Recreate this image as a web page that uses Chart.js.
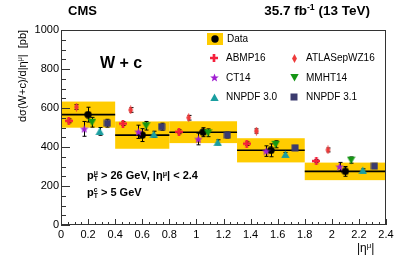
<!DOCTYPE html>
<html>
<head>
<meta charset="utf-8">
<script src="https://cdn.jsdelivr.net/npm/chart.js"></script>
<style>
body { margin: 0; background: #fff; }
#wrap { position: relative; width: 407px; height: 258px; font-family: "Liberation Sans", Arial, Helvetica, sans-serif; color: #000; }
#c { position: absolute; left: 0; top: 0; }
.t { position: absolute; white-space: nowrap; line-height: 1; }
.b { font-weight: bold; }
sup { font-size: 0.65em; vertical-align: 0.55em; line-height: 0; }
.ss { display: inline-block; vertical-align: -0.3em; font-size: 0.62em; line-height: 0.95; text-align: left; }
.ss span { display: block; }
.leg { position: absolute; font-size: 10px; line-height: 1; white-space: nowrap; }
.mk { position: absolute; }
</style>
</head>
<body>
<div id="wrap">
  <canvas id="c" width="407" height="258"></canvas>
  <div class="t b" style="left:68px;top:4px;font-size:13px">CMS</div>
  <div class="t b" style="right:37px;top:4px;font-size:13.5px">35.7 fb<sup>-1</sup> (13 TeV)</div>
  <div class="t b" style="left:100px;top:55px;font-size:16px">W + c</div>
  <div class="t b" style="left:87px;top:170px;font-size:11px">p<span class="ss"><span>μ</span><span>T</span></span> &gt; 26 GeV, |η<sup>μ</sup>| &lt; 2.4</div>
  <div class="t b" style="left:87px;top:187px;font-size:11px">p<span class="ss"><span>c</span><span>T</span></span> &gt; 5 GeV</div>
  <div class="t" style="left:17px;top:122px;font-size:11px;transform-origin:0 0;transform:rotate(-90deg)">dσ(W+c)/d|η<sup>μ</sup>|&nbsp;&nbsp;[pb]</div>
  <div class="t" style="left:357px;top:242px;font-size:12px">|η<sup>μ</sup>|</div>
  <div id="legend"></div>
</div>
<script>
// bins in |eta| and measured cross sections [pb]
const binEdges = [0, 0.4, 0.8, 1.3, 1.8, 2.4];
const dataVals = [566, 461, 476, 383, 275];
const dataStat = [38, 33, 23, 33, 25];
const dataTot  = [67, 70, 56, 62, 45];

// theory predictions per bin
const abmp16   = [534, 520, 478, 417, 328];
const abmp16E  = [10, 10, 10, 9, 8];
const atlas16  = [605, 590, 550, 482, 385];
const atlas16E = [12, 12, 12, 11, 10];
const ct14     = [493, 478, 441, 379, 299];
const ct14E    = [38, 34, 30, 27, 22];
const mmht14   = [527, 509, 473, 414, 333];
const mmht14E  = [25, 22, 20, 18, 16];
const nnpdf30  = [480, 465, 424, 362, 280];
const nnpdf30E = [20, 16, 13, 10, 8];
const nnpdf31  = [522, 504, 461, 396, 302];
const nnpdf31E = [20, 18, 15, 12, 10];

const xTicks = { min: 0, max: 2.4, step: 0.2, minor: 0.05 };
const yTicks = { min: 0, max: 1000, step: 200, minor: 50 };

function marker(shape, color, s) {
  const c = document.createElement('canvas');
  c.width = c.height = s;
  const g = c.getContext('2d');
  const m = s / 2;
  g.fillStyle = color;
  g.beginPath();
  if (shape === 'circle') {
    g.arc(m, m, s / 2 - 0.3, 0, Math.PI * 2);
  } else if (shape === 'square') {
    g.rect(0.5, 0.5, s - 1, s - 1);
  } else if (shape === 'up') {
    g.moveTo(m, 0.5); g.lineTo(s - 0.3, s - 1); g.lineTo(0.3, s - 1);
  } else if (shape === 'down') {
    g.moveTo(0.3, 1); g.lineTo(s - 0.3, 1); g.lineTo(m, s - 0.5);
  } else if (shape === 'cross') {
    const a = s / 3;
    g.rect(m - a / 2, 0, a, s);
    g.rect(0, m - a / 2, s, a);
  } else if (shape === 'diamond') {
    const w = s * 0.27;
    g.moveTo(m, 0); g.lineTo(m + w, m); g.lineTo(m, s); g.lineTo(m - w, m);
  } else if (shape === 'star') {
    for (let i = 0; i < 10; i++) {
      const r = i % 2 ? s * 0.21 : s / 2;
      const a = -Math.PI / 2 + i * Math.PI / 5;
      g.lineTo(m + r * Math.cos(a), m + r * Math.sin(a) + s * 0.05);
    }
  }
  g.closePath();
  g.fill();
  return c;
}

const series = [
  { label: 'ABMP16',      vals: abmp16,  errs: abmp16E,  mk: marker('cross', '#f5203c', 8) },
  { label: 'ATLASepWZ16', vals: atlas16, errs: atlas16E, mk: marker('diamond', '#ee3a3a', 9) },
  { label: 'CT14',        vals: ct14,    errs: ct14E,    mk: marker('star', '#a01ed2', 9) },
  { label: 'MMHT14',      vals: mmht14,  errs: mmht14E,  mk: marker('down', '#159615', 9) },
  { label: 'NNPDF 3.0',   vals: nnpdf30, errs: nnpdf30E, mk: marker('up', '#1a9ea0', 9) },
  { label: 'NNPDF 3.1',   vals: nnpdf31, errs: nnpdf31E, mk: marker('square', '#3b3b6e', 8) }
];
const dataMk = marker('circle', '#000', 8);

// theory points are shifted inside each bin, data sits in the centre
function thX(i, k) {
  const lo = binEdges[i], hi = binEdges[i + 1];
  return lo + (hi - lo) * (k + 1) / 7;
}
function dataX(i) { return (binEdges[i] + binEdges[i + 1]) / 2; }

const datasets = series.map((s, k) => ({
  label: s.label,
  data: s.vals.map((v, i) => ({ x: thX(i, k), y: v })),
  errs: s.errs,
  pointStyle: s.mk,
  pointRadius: 4,
  showLine: false
}));
datasets.push({
  label: 'Data',
  data: dataVals.map((v, i) => ({ x: dataX(i), y: v })),
  errs: dataStat,
  pointStyle: dataMk,
  pointRadius: 4,
  showLine: false
});

const hepPlugin = {
  id: 'hep',
  beforeDatasetsDraw(chart) {
    const { ctx, scales: { x, y } } = chart;
    ctx.save();
    ctx.fillStyle = '#ffcc00';
    for (let i = 0; i < dataVals.length; i++) {
      const x0 = x.getPixelForValue(binEdges[i]);
      const x1 = x.getPixelForValue(binEdges[i + 1]);
      const y0 = y.getPixelForValue(dataVals[i] + dataTot[i]);
      const y1 = y.getPixelForValue(dataVals[i] - dataTot[i]);
      ctx.fillRect(x0, y0, x1 - x0, y1 - y0);
    }
    ctx.strokeStyle = '#000';
    ctx.lineWidth = 1.6;
    for (let i = 0; i < dataVals.length; i++) {
      const yy = y.getPixelForValue(dataVals[i]);
      ctx.beginPath();
      ctx.moveTo(x.getPixelForValue(binEdges[i]), yy);
      ctx.lineTo(x.getPixelForValue(binEdges[i + 1]), yy);
      ctx.stroke();
    }
    // error bars with small caps
    ctx.lineWidth = 1;
    chart.data.datasets.forEach(ds => {
      ds.data.forEach((p, i) => {
        const px = Math.round(x.getPixelForValue(p.x)) + 0.5;
        const ya = y.getPixelForValue(p.y + ds.errs[i]);
        const yb = y.getPixelForValue(p.y - ds.errs[i]);
        ctx.beginPath();
        ctx.moveTo(px, ya); ctx.lineTo(px, yb);
        ctx.moveTo(px - 2, ya); ctx.lineTo(px + 2, ya);
        ctx.moveTo(px - 2, yb); ctx.lineTo(px + 2, yb);
        ctx.stroke();
      });
    });
    ctx.restore();
  },
  afterDraw(chart) {
    const { ctx, chartArea: a, scales: { x, y } } = chart;
    ctx.save();
    ctx.strokeStyle = '#333';
    ctx.lineWidth = 1;
    ctx.strokeRect(a.left + 0.5, a.top + 0.5, a.right - a.left - 1, a.bottom - a.top - 1);
    ctx.beginPath();
    for (let v = yTicks.min; v <= yTicks.max + 1e-6; v += yTicks.minor) {
      const py = Math.round(y.getPixelForValue(v)) + 0.5;
      const len = Math.abs(v / yTicks.step - Math.round(v / yTicks.step)) < 1e-6 ? 9 : 5;
      ctx.moveTo(a.left, py); ctx.lineTo(a.left + len, py);
    }
    for (let v = xTicks.min; v <= xTicks.max + 1e-6; v += xTicks.minor) {
      const px = Math.round(x.getPixelForValue(v)) + 0.5;
      const len = Math.abs(v / xTicks.step - Math.round(v / xTicks.step)) < 1e-6 ? 6 : 3;
      ctx.moveTo(px, a.bottom); ctx.lineTo(px, a.bottom - len);
    }
    ctx.stroke();
    ctx.restore();
  }
};

Chart.defaults.font.family = '"Liberation Sans", Arial, Helvetica, sans-serif';
Chart.defaults.font.size = 11;
Chart.defaults.color = '#000';

new Chart(document.getElementById('c'), {
  type: 'scatter',
  data: { datasets },
  options: {
    responsive: false,
    animation: false,
    layout: { padding: { left: 0, right: 21, top: 30, bottom: 0 } },
    plugins: { legend: { display: false }, tooltip: { enabled: false } },
    scales: {
      x: {
        type: 'linear', min: xTicks.min, max: xTicks.max,
        grid: { display: false, drawTicks: false },
        border: { display: false },
        ticks: {
          stepSize: xTicks.step, padding: 3,
          callback: v => { const s = v.toFixed(1); return s.endsWith('.0') ? s.slice(0, -2) : s; }
        },
        afterFit: s => { s.height = 33; }
      },
      y: {
        min: yTicks.min, max: yTicks.max,
        grid: { display: false, drawTicks: false },
        border: { display: false },
        ticks: { stepSize: yTicks.step, padding: 2, callback: v => String(v) },
        afterFit: s => { s.width = 61; }
      }
    }
  },
  plugins: [hepPlugin]
});

// legend
const legend = document.getElementById('legend');
function addMk(cv, cx, cy) {
  const img = document.createElement('img');
  img.src = cv.toDataURL();
  img.className = 'mk';
  img.style.left = (cx - cv.width / 2) + 'px';
  img.style.top = (cy - cv.height / 2) + 'px';
  legend.appendChild(img);
}
function addText(txt, lx, cy) {
  const d = document.createElement('div');
  d.className = 'leg';
  d.textContent = txt;
  d.style.left = lx + 'px';
  d.style.top = (cy - 5) + 'px';
  legend.appendChild(d);
}
const box = document.createElement('div');
box.style.cssText = 'position:absolute;left:207px;top:33px;width:16px;height:12px;background:#ffcc00';
legend.appendChild(box);
addMk(dataMk, 215, 39);
addText('Data', 227, 38.5);
const rowsY = [58, 77.5, 97];
series.forEach((s, k) => {
  const col = k % 2, row = Math.floor(k / 2);
  const mx = col ? 294 : 214;
  addMk(s.mk, mx, rowsY[row]);
  addText(s.label, mx + 12, rowsY[row]);
});
</script>
</body>
</html>
